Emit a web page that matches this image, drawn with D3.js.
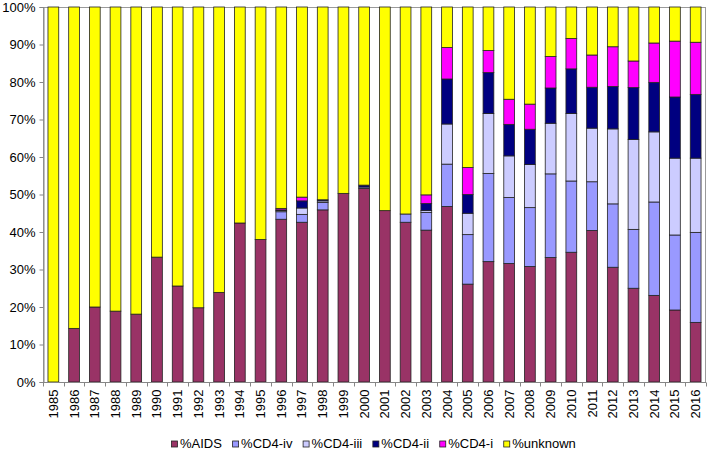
<!DOCTYPE html>
<html>
<head>
<meta charset="utf-8">
<script src="https://cdn.jsdelivr.net/npm/d3@7"></script>
<style>
  html, body { margin: 0; padding: 0; background: #fff; }
  svg { display: block; font-family: "Liberation Sans", Arial, sans-serif; }
</style>
</head>
<body>
<svg id="chart" width="709" height="450"></svg>
<script>
const years = ["1985","1986","1987","1988","1989","1990","1991","1992","1993","1994","1995","1996","1997","1998","1999","2000","2001","2002","2003","2004","2005","2006","2007","2008","2009","2010","2011","2012","2013","2014","2015","2016"];
const seriesNames = ["%AIDS","%CD4-iv","%CD4-iii","%CD4-ii","%CD4-i","%unknown"];
const aids    = [0,14.3,20.0,18.9,18.1,33.3,25.6,19.8,23.9,42.4,38.0,43.4,42.6,45.9,50.3,51.6,45.7,42.6,40.5,46.8,26.1,32.1,31.6,30.8,33.2,34.6,40.4,30.6,25.0,23.1,19.2,15.9];
const cd4iv   = [0,0,0,0,0,0,0,0,0,0,0,2.0,2.1,2.0,0,0.4,0,2.2,4.7,11.3,13.2,23.5,17.6,15.7,22.3,19.0,13.0,16.9,15.7,24.9,20.0,24.0];
const cd4iii  = [0,0,0,0,0,0,0,0,0,0,0,0.3,1.7,0.4,0,0,0,0,0.5,10.7,5.7,16.0,11.1,11.5,13.5,18.0,14.3,20.0,24.0,18.7,20.5,19.8];
const cd4ii   = [0,0,0,0,0,0,0,0,0,0,0,0.2,1.9,0.3,0,0.5,0,0,1.9,12.0,5.0,10.9,8.4,9.4,9.4,11.9,10.9,11.3,13.8,13.2,16.3,17.0];
const cd4i    = [0,0,0,0,0,0,0,0,0,0,0,0.4,1.0,0,0,0,0,0,2.3,8.4,7.2,5.9,6.7,6.7,8.4,8.1,8.6,10.6,7.1,10.5,14.9,13.9];
const unknown = [100,85.7,80.0,81.1,81.9,66.7,74.4,80.2,76.1,57.6,62.0,53.7,50.7,51.4,49.7,47.5,54.3,55.2,50.1,10.8,42.8,11.6,24.6,25.9,13.2,8.4,12.8,10.6,14.4,9.6,9.1,9.4];
const yTicks = [0,10,20,30,40,50,60,70,80,90,100];
const colors = ["#993366","#9999FF","#CCCCFF","#000080","#FF00FF","#FFFF00"];

const seriesValues = [aids, cd4iv, cd4iii, cd4ii, cd4i, unknown];
const data = years.map((y, i) => {
  const row = { year: y };
  seriesNames.forEach((s, k) => { row[s] = seriesValues[k][i]; });
  return row;
});

const svg = d3.select("#chart");
const margin = { left: 43, right: 3, top: 7, bottom: 68 };
const W = 709, H = 450;
const x0 = margin.left, x1 = W - margin.right, y0 = margin.top, y1 = H - margin.bottom;

const x = d3.scaleBand().domain(years).range([x0, x1]).paddingInner(0.48).paddingOuter(0.24);
const y = d3.scaleLinear().domain([0, 100]).range([y1, y0]);
const color = d3.scaleOrdinal().domain(seriesNames).range(colors);

const stack = d3.stack().keys(seriesNames);
const stacked = stack(data);

// plot border (top/right)
svg.append("rect")
  .attr("x", x0 + 0.5).attr("y", y0 + 0.5)
  .attr("width", x1 - x0 - 1).attr("height", y1 - y0)
  .attr("fill", "none").attr("stroke", "#9a9a9a").attr("stroke-width", 1)
  .attr("shape-rendering", "crispEdges");

// bars
svg.append("g").selectAll("g")
  .data(stacked)
  .join("g")
  .attr("fill", d => color(d.key))
  .selectAll("rect")
  .data(d => d.filter(p => p[1] - p[0] > 0))
  .join("rect")
  .attr("x", d => x(d.data.year))
  .attr("y", d => y(d[1]))
  .attr("width", x.bandwidth())
  .attr("height", d => y(d[0]) - y(d[1]))
  .attr("stroke", "#222")
  .attr("stroke-width", 0.8);

// y axis
const yAxis = d3.axisLeft(y).tickValues(yTicks).tickFormat(d => d + "%").tickSizeOuter(0).tickSize(4).tickPadding(4);
const gy = svg.append("g").attr("transform", `translate(${x0 + 0.5},0)`).call(yAxis);
gy.select(".domain").attr("stroke", "#868686");
gy.selectAll(".tick line").attr("stroke", "#868686");
gy.selectAll("text").attr("font-size", 13).attr("fill", "#000").attr("font-family", "Liberation Sans, Arial, sans-serif");

// x axis
const gx = svg.append("g").attr("transform", `translate(0,${y1 + 0.5})`);
gx.append("line").attr("x1", x0).attr("x2", x1).attr("y1", 0).attr("y2", 0).attr("stroke", "#868686");
const step = x.step();
const bounds = d3.range(years.length + 1).map(i => x0 + i * step);
gx.selectAll("line.tk").data(bounds).join("line")
  .attr("class", "tk")
  .attr("x1", d => Math.round(d) + 0.5).attr("x2", d => Math.round(d) + 0.5)
  .attr("y1", 0).attr("y2", 4).attr("stroke", "#868686");
gx.selectAll("text").data(years).join("text")
  .attr("transform", d => `translate(${x(d) + x.bandwidth() / 2 + 4.5},${7}) rotate(-90)`)
  .attr("text-anchor", "end")
  .attr("font-size", 13)
  .attr("fill", "#000")
  .text(d => d);

// legend
const legend = svg.append("g");
let lx = 171.5;
const ly = 447.5;
seriesNames.forEach((s, k) => {
  const g = legend.append("g");
  g.append("rect").attr("x", lx).attr("y", ly - 6.5).attr("width", 6).attr("height", 6)
    .attr("fill", colors[k]).attr("stroke", "#222").attr("stroke-width", 0.8);
  const t = g.append("text").attr("x", lx + 8.5).attr("y", ly).attr("font-size", 13).attr("fill", "#000").text(s);
  lx += 8.5 + t.node().getComputedTextLength() + 10.7;
});
</script>
</body>
</html>
